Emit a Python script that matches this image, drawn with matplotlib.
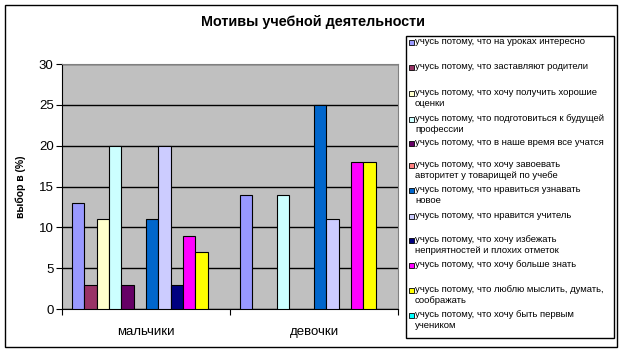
import numpy as np
import matplotlib.pyplot as plt
from matplotlib.patches import Rectangle

plt.rcParams['font.family'] = ['Liberation Sans', 'DejaVu Sans']

groups = ["мальчики", "девочки"]
motives = [
    "учусь потому, что на уроках интересно",
    "учусь потому, что заставляют родители",
    "учусь потому, что хочу получить хорошие\nоценки",
    "учусь потому, что подготовиться к будущей\nпрофессии",
    "учусь потому, что в наше время все учатся",
    "учусь потому, что хочу завоевать\nавторитет у товарищей по учебе",
    "учусь потому, что нравиться узнавать\nновое",
    "учусь потому, что нравится учитель",
    "учусь потому, что хочу избежать\nнеприятностей и плохих отметок",
    "учусь потому, что хочу больше знать",
    "учусь потому, что люблю мыслить, думать,\nсоображать",
    "учусь потому, что хочу быть первым\nучеником",
]
boys = [13, 3, 11, 20, 3, 0, 11, 20, 3, 9, 7, 0]
girls = [14, 0, 0, 14, 0, 0, 25, 11, 0, 18, 18, 0]
colors = ["#9999FF", "#993366", "#FFFFCC", "#CCFFFF", "#660066", "#FF8080",
          "#0066CC", "#CCCCFF", "#000080", "#FF00FF", "#FFFF00", "#00FFFF"]
# first-line y of each legend entry (pixels from top)
legend_y = [42, 67, 93, 119, 143, 165, 190, 216, 240, 265, 290, 315]

W, H = 624, 353
fig = plt.figure(figsize=(W / 100, H / 100), dpi=100)
ax = fig.add_axes([62 / W, 1 - 309 / H, (398 - 62) / W, (309 - 64) / H])
ax.set_facecolor("#C0C0C0")

n = len(motives)
bw = 1 / (n + 1.6)
for i in range(n):
    for g, vals in enumerate([boys, girls]):
        if vals[i] > 0:
            x = g + 0.8 * bw + i * bw
            ax.bar(x, vals[i], width=bw, align="edge", color=colors[i],
                   edgecolor="black", linewidth=0.8, zorder=3)

ax.set_xlim(0, 2)
ax.set_ylim(0, 30)
ax.set_yticks(range(0, 31, 5))
ax.yaxis.grid(True, color="black", linewidth=1, zorder=1)
ax.set_xticks([0, 1, 2])
ax.set_xticklabels([])
ax.set_xticks([0.5, 1.5], minor=True)
ax.set_xticklabels(groups, minor=True, fontsize=9.5)
ax.tick_params(axis="x", which="minor", length=0, pad=12)
ax.tick_params(axis="x", which="major", length=4, direction="out")
ax.tick_params(axis="y", length=4, direction="out", labelsize=9.5, pad=2)
for s in ["top", "right"]:
    ax.spines[s].set_color("#808080")
for s in ["left", "bottom"]:
    ax.spines[s].set_color("black")
ax.set_ylabel("выбор в (%)", fontsize=7.5, fontweight="bold", labelpad=9)

fig.text(313 / W, 1 - 22 / H, "Мотивы учебной деятельности", ha="center",
         va="center", fontsize=10.4, fontweight="bold")

# outer chart border and legend box
fig.add_artist(Rectangle((5 / W, 1 - 347 / H), 612 / W, 342 / H,
                         transform=fig.transFigure, fill=False,
                         edgecolor="black", linewidth=1))
fig.add_artist(Rectangle((406 / W, 1 - 338 / H), 208 / W, 302 / H,
                         transform=fig.transFigure, fill=False,
                         edgecolor="black", linewidth=1))

for i, (lab, y) in enumerate(zip(motives, legend_y)):
    fig.add_artist(Rectangle((409 / W, 1 - (y + 3) / H), 5 / W, 5 / H,
                             transform=fig.transFigure, facecolor=colors[i],
                             edgecolor="black", linewidth=0.6))
    fig.text(415 / W, 1 - (y - 5) / H, lab, ha="left", va="top",
             fontsize=6.8, linespacing=1.3)

fig.savefig("out.png", dpi=100)
